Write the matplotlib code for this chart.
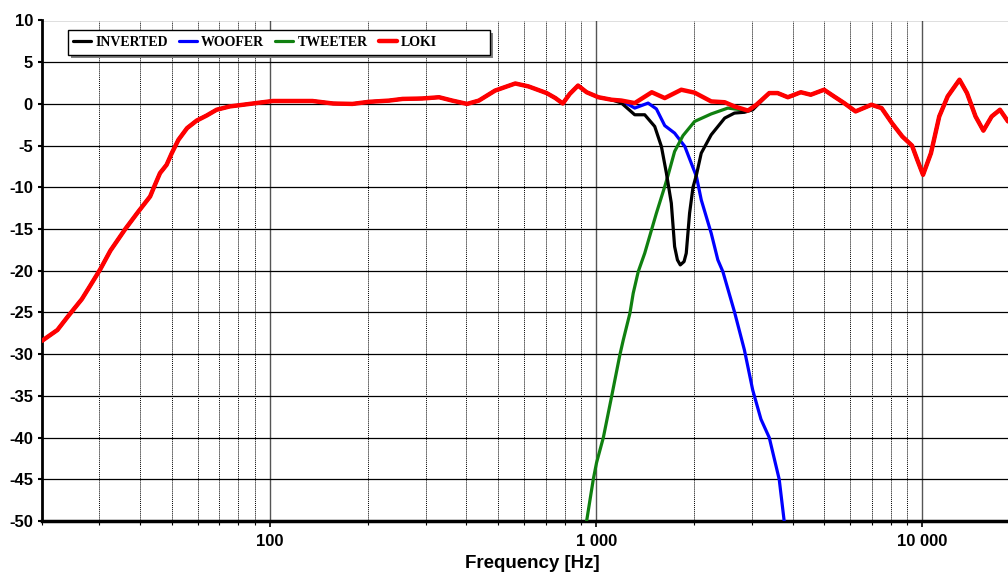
import matplotlib
matplotlib.use('Agg')
import matplotlib.pyplot as plt
import matplotlib.ticker as mticker
from matplotlib.patches import Rectangle
import numpy as np

# LOKI (summed response), red
loki_freq = [20, 22.3, 24.1, 26.5, 28.1, 30.2, 32.4, 36.0, 39.5, 42.9, 44.4, 46.0,
             48.2, 50.0, 52.4, 55.7, 59.6, 63.9, 68.6, 75.3, 82.7, 95, 102, 135,
             156, 179, 201, 232, 255, 293, 330, 362, 402, 437, 490, 565, 620, 705,
             750, 790, 830, 880, 935, 1016, 1115, 1196, 1313, 1481, 1623, 1824,
             2004, 2253, 2478, 2654, 2920, 3100, 3394, 3601, 3870, 4242, 4550,
             4996, 5361, 5760, 6243, 6980, 7500, 8070, 8680, 9300, 9650, 10050,
             10630, 11270, 11960, 13000, 13710, 14560, 15390, 16320, 17300, 18310]
loki_db = [-28.4, -27.1, -25.4, -23.4, -21.8, -19.8, -17.6, -15.0, -12.9, -11.1,
           -9.7, -8.3, -7.3, -5.9, -4.3, -2.9, -2.0, -1.4, -0.7, -0.3, -0.1, 0.2,
           0.35, 0.35, 0.05, 0.0, 0.25, 0.4, 0.6, 0.65, 0.8, 0.4, 0.0, 0.4, 1.6,
           2.45, 2.1, 1.3, 0.7, 0.05, 1.2, 2.2, 1.4, 0.8, 0.5, 0.4, 0.1, 1.4, 0.7,
           1.7, 1.35, 0.3, 0.2, -0.3, -0.8, -0.1, 1.3, 1.3, 0.8, 1.4, 1.1, 1.7,
           0.9, 0.1, -0.9, -0.1, -0.5, -2.3, -3.9, -5.0, -6.7, -8.5, -5.9, -1.5,
           0.9, 2.9, 1.3, -1.5, -3.2, -1.5, -0.7, -2.1]

# WOOFER, blue: same as LOKI up to the split, then its own roll-off
woofer_split = 1196
woofer_freq = [1313, 1443, 1530, 1623, 1740, 1870, 1957, 2030, 2100, 2253, 2361,
               2446, 2654, 2848, 3020, 3201, 3394, 3641, 3771]
woofer_db = [-0.5, 0.1, -0.6, -2.6, -3.5, -5.1, -7.1, -8.7, -11.5, -15.5, -18.7,
             -20.1, -24.9, -29.5, -34.3, -37.8, -40.0, -45.0, -50.0]

# INVERTED, black: same as LOKI outside the notch region
inverted_split = (1115, 3394)
inverted_freq = [1196, 1313, 1409, 1512, 1585, 1642, 1700, 1740, 1775, 1811, 1860,
                 1889, 1934, 1981, 2030, 2100, 2253, 2478, 2654, 2850, 3020, 3128]
inverted_db = [0.1, -1.3, -1.3, -2.7, -5.1, -8.3, -11.9, -17.1, -18.7, -19.3, -18.9,
               -17.9, -13.1, -10.0, -8.5, -5.9, -3.7, -1.7, -1.1, -1.0, -0.7, -0.1]

# TWEETER, green: own rise, then same as LOKI above the split
tweeter_split = 3100
tweeter_freq = [935, 980, 1003, 1052, 1115, 1182, 1211, 1269, 1299, 1346, 1409,
                1530, 1623, 1663, 1740, 1846, 2004, 2253, 2533, 2782, 2984]
tweeter_db = [-50.0, -45.0, -43.0, -40.0, -35.1, -30.1, -28.3, -25.1, -22.7, -20.1,
              -17.9, -13.1, -9.9, -8.5, -5.7, -3.8, -2.1, -1.2, -0.5, -0.7, -0.7]

xtick_vals = [100, 1000, 10000]
xtick_labels = ['100', '1 000', '10 000']

lf = np.array(loki_freq)
ld = np.array(loki_db)
w_f = np.concatenate([lf[lf <= woofer_split], woofer_freq])
w_d = np.concatenate([ld[lf <= woofer_split], woofer_db])
i_f = np.concatenate([lf[lf <= inverted_split[0]], inverted_freq, lf[lf >= inverted_split[1]]])
i_d = np.concatenate([ld[lf <= inverted_split[0]], inverted_db, ld[lf >= inverted_split[1]]])
t_f = np.concatenate([tweeter_freq, lf[lf >= tweeter_split]])
t_d = np.concatenate([tweeter_db, ld[lf >= tweeter_split]])

plt.rcParams['font.family'] = ['Liberation Sans', 'DejaVu Sans']
plt.rcParams['font.weight'] = 'bold'
plt.rcParams['axes.unicode_minus'] = False

fig = plt.figure(figsize=(10.08, 5.74), dpi=100)
ax = fig.add_axes([42 / 1008, 1 - 521 / 574, 966 / 1008, 500.5 / 574])

style = dict(solid_joinstyle='round', solid_capstyle='round')
h_inv, = ax.plot(i_f, i_d, color='black', lw=2.3, label='INVERTED', zorder=4, **style)
h_woof, = ax.plot(w_f, w_d, color='#0000ff', lw=2.3, label='WOOFER', zorder=3, **style)
h_tw, = ax.plot(t_f, t_d, color='#108010', lw=2.3, label='TWEETER', zorder=3.5, **style)
h_loki, = ax.plot(lf, ld, color='#ff0000', lw=3.2, label='LOKI', zorder=5, **style)

ax.set_xscale('log')
ax.set_xlim(20, 18310)
ax.set_ylim(-50, 10)

ax.xaxis.set_major_locator(mticker.FixedLocator(xtick_vals))
ax.xaxis.set_major_formatter(mticker.FixedFormatter(xtick_labels))
ax.xaxis.set_minor_locator(mticker.LogLocator(base=10, subs=np.arange(2, 10)))
ax.xaxis.set_minor_formatter(mticker.NullFormatter())
ax.yaxis.set_major_locator(mticker.MultipleLocator(5))

ax.grid(True, which='major', axis='y', color='black', lw=0.9)
ax.grid(True, which='major', axis='x', color='#555555', lw=1.0)
ax.grid(True, which='minor', axis='x', color='black', lw=0.7, ls=(0, (1, 1)))
ax.set_axisbelow(True)

for s in ['top', 'right']:
    ax.spines[s].set_visible(False)
ax.spines['left'].set_linewidth(2)
ax.spines['bottom'].set_linewidth(2.5)

ax.tick_params(axis='y', which='major', length=3, width=1.5, pad=3.5, labelsize=12)
ax.tick_params(axis='x', which='major', length=4, width=1.2, pad=5, labelsize=12)
ax.tick_params(axis='x', which='minor', length=3, width=0.8)

ax.set_xlabel('Frequency [Hz]', fontsize=13.5, fontweight='bold')
ax.xaxis.set_label_coords((532 - 42) / 966, -0.068)

# legend box with drop shadow
box_x, box_y, box_w, box_h = 68 / 1008, 1 - 55 / 574, 422 / 1008, 25 / 574
fig.patches.append(Rectangle((box_x + 3 / 1008, box_y - 3 / 574), box_w, box_h,
                             transform=fig.transFigure, facecolor='#808080',
                             edgecolor='none', zorder=10))
fig.patches.append(Rectangle((box_x, box_y), box_w, box_h, transform=fig.transFigure,
                             facecolor='white', edgecolor='black', lw=1.0, zorder=11))
leg = fig.legend(handles=[h_inv, h_woof, h_tw, h_loki], loc='center left',
                 bbox_to_anchor=(73 / 1008, 1 - 42.5 / 574), ncol=4, frameon=False,
                 borderpad=0, borderaxespad=0, handlelength=1.3, handletextpad=0.3,
                 columnspacing=0.8,
                 prop={'family': ['Liberation Serif', 'DejaVu Serif'],
                       'weight': 'bold', 'size': 10})
leg.set_zorder(12)

fig.savefig('out.png', dpi=100)
